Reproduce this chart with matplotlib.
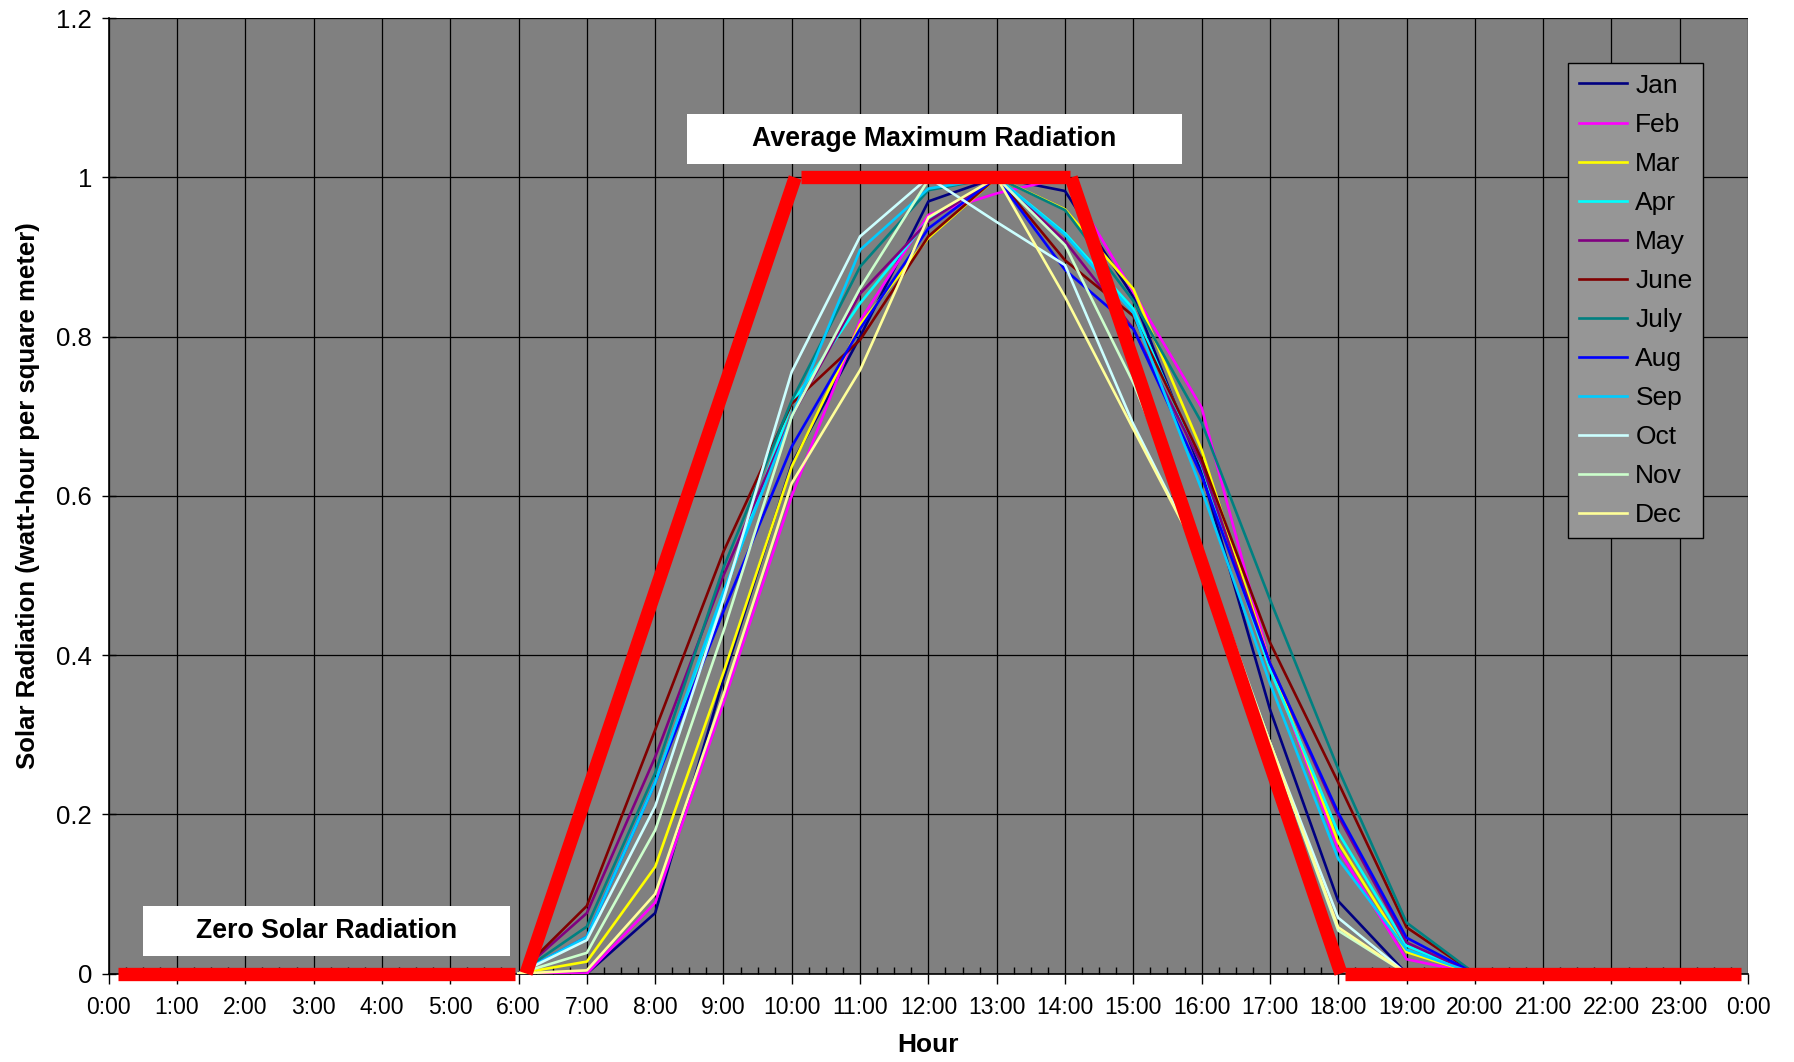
import matplotlib
matplotlib.use("Agg")
import matplotlib.pyplot as plt
from matplotlib.patches import Rectangle
from matplotlib.ticker import MultipleLocator
import numpy as np

plt.rcParams['font.family'] = ['Liberation Sans', 'DejaVu Sans']

hours = [6, 7, 8, 9, 10, 11, 12, 13, 14, 15, 16, 17, 18, 19, 20]

jan = [0, 0, 0.076, 0.37, 0.64, 0.80, 0.97, 1.0, 0.983, 0.85, 0.63, 0.332, 0.091, 0, 0]
feb = [0, 0, 0.089, 0.34, 0.60, 0.82, 0.953, 0.98, 1.0, 0.856, 0.711, 0.39, 0.156, 0.018, 0]
mar = [0, 0.015, 0.134, 0.378, 0.637, 0.815, 0.924, 1.0, 0.96, 0.86, 0.658, 0.39, 0.165, 0.027, 0]
apr = [0, 0.046, 0.24, 0.475, 0.716, 0.842, 0.947, 1.0, 0.93, 0.835, 0.638, 0.382, 0.177, 0.035, 0]
may = [0, 0.076, 0.272, 0.50, 0.70, 0.854, 0.945, 1.0, 0.92, 0.81, 0.64, 0.39, 0.198, 0.039, 0]
jun = [0, 0.085, 0.306, 0.53, 0.716, 0.796, 0.926, 1.0, 0.896, 0.826, 0.646, 0.416, 0.24, 0.058, 0]
jul = [0, 0.059, 0.252, 0.51, 0.72, 0.888, 0.984, 1.0, 0.959, 0.845, 0.692, 0.47, 0.257, 0.064, 0]
aug = [0, 0.046, 0.24, 0.455, 0.662, 0.81, 0.936, 1.0, 0.884, 0.81, 0.625, 0.39, 0.202, 0.045, 0]
sep = [0, 0.046, 0.24, 0.48, 0.70, 0.909, 0.986, 1.0, 0.928, 0.83, 0.608, 0.365, 0.144, 0.03, 0]
octo = [0, 0.042, 0.21, 0.47, 0.756, 0.926, 1.0, 0.944, 0.89, 0.69, 0.52, 0.29, 0.07, 0, 0]
nov = [0, 0.026, 0.18, 0.43, 0.70, 0.861, 0.997, 1.0, 0.915, 0.742, 0.53, 0.29, 0.054, 0, 0]
dec = [0, 0.004, 0.10, 0.35, 0.616, 0.758, 0.95, 1.0, 0.85, 0.684, 0.52, 0.29, 0.058, 0, 0]

months = ['Jan', 'Feb', 'Mar', 'Apr', 'May', 'June', 'July', 'Aug', 'Sep', 'Oct', 'Nov', 'Dec']
series = [jan, feb, mar, apr, may, jun, jul, aug, sep, octo, nov, dec]
colors = ['#000080', '#FF00FF', '#FFFF00', '#00FFFF', '#800080', '#800000',
          '#008080', '#0000FF', '#00CCFF', '#CCFFFF', '#CCFFCC', '#FFFF99']

# idealised profile drawn as separate red strokes (hour, value)
ideal_x = [[0.13, 5.95], [6.11, 10.05], [10.13, 14.07], [14.09, 18.04], [18.10, 23.9]]
ideal_y = [[0, 0], [0, 1], [1, 1], [1, 0], [0, 0]]

hour_ticks = list(range(25))
hour_labels = ['%d:00' % (h % 24) for h in hour_ticks]
y_ticks = [0, 0.2, 0.4, 0.6, 0.8, 1.0, 1.2]
y_labels = ['0', '0.2', '0.4', '0.6', '0.8', '1', '1.2']

fig = plt.figure(figsize=(17.94, 10.62), dpi=100)
ax = fig.add_axes([0.0606, 0.0833, 0.9138, 0.8995])
ax.set_facecolor('#808080')

for vals, name, c in zip(series, months, colors):
    ax.plot(hours, vals, color=c, lw=1.9, label=name, zorder=3)

for xs, ys in zip(ideal_x, ideal_y):
    ax.plot(xs, ys, color='#FF0000', lw=9.6, solid_capstyle='butt', zorder=5, clip_on=False)

ax.set_xlim(0, 24)
ax.set_ylim(0, 1.2)
ax.set_xticks(hour_ticks)
ax.set_xticklabels(hour_labels)
ax.xaxis.set_minor_locator(MultipleLocator(0.25))
ax.set_yticks(y_ticks)
ax.set_yticklabels(y_labels)

ax.grid(True, which='major', color='black', lw=0.9, zorder=1)
ax.set_axisbelow(True)
ax.tick_params(axis='x', which='major', direction='out', length=7, width=1, labelsize=16.5, pad=9)
ax.tick_params(axis='x', which='minor', direction='in', length=5, width=1)
ax.tick_params(axis='y', which='major', direction='inout', length=10, width=1, labelsize=18.5, pad=7)

for s in ['top', 'right']:
    ax.spines[s].set_visible(False)
for s in ['left', 'bottom']:
    ax.spines[s].set_color('black')
    ax.spines[s].set_linewidth(1.2)

ax.set_xlabel('Hour', fontsize=19, fontweight='bold', labelpad=10)
ax.set_ylabel('Solar Radiation (watt-hour per square meter)', fontsize=18.5, fontweight='bold', labelpad=12)

# annotation boxes
ax.add_patch(Rectangle((8.46, 1.017), 7.25, 0.063, facecolor='white', edgecolor='none', zorder=6, clip_on=False))
ax.text(12.08, 1.0485, 'Average Maximum Radiation', ha='center', va='center',
        fontsize=19.3, fontweight='bold', zorder=7)
ax.add_patch(Rectangle((0.5, 0.0216), 5.38, 0.0634, facecolor='white', edgecolor='none', zorder=6))
ax.text(3.19, 0.053, 'Zero Solar Radiation', ha='center', va='center',
        fontsize=19.3, fontweight='bold', zorder=7)

leg = ax.legend(loc='upper right', bbox_to_anchor=(0.9726, 0.953), borderaxespad=0,
                fontsize=19, labelspacing=0.57, handlelength=1.85, handletextpad=0.3,
                borderpad=0.4, fancybox=False, framealpha=1)
leg.get_frame().set_facecolor('#969696')
leg.get_frame().set_edgecolor('black')
leg.get_frame().set_linewidth(1.0)
leg.set_zorder(8)

plt.savefig('out.png', dpi=100)
